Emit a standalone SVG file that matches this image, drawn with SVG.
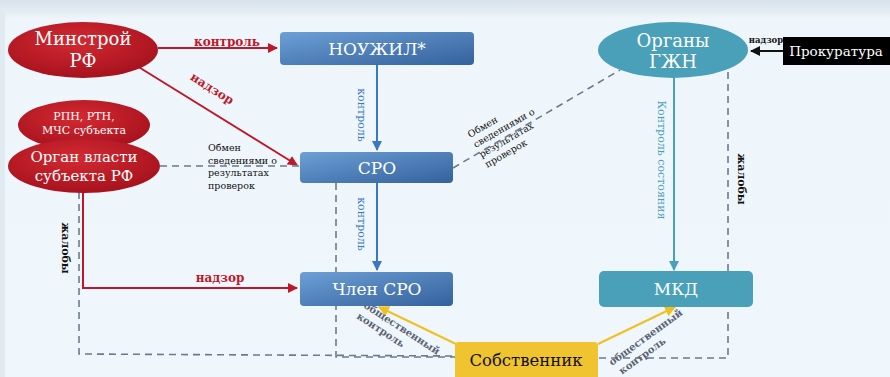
<svg xmlns="http://www.w3.org/2000/svg" width="890" height="377" viewBox="0 0 890 377" font-family="'DejaVu Serif', serif">
<defs>
<linearGradient id="bg" x1="0" y1="0" x2="0" y2="1">
<stop offset="0" stop-color="#d8e2ec"/><stop offset="0.03" stop-color="#e4ecf3"/><stop offset="0.05" stop-color="#eef6fb"/><stop offset="1" stop-color="#f0f7fc"/>
</linearGradient>
<radialGradient id="red" cx="0.45" cy="0.35" r="0.7">
<stop offset="0" stop-color="#d42a32"/><stop offset="1" stop-color="#a3101c"/>
</radialGradient>
<linearGradient id="blue" x1="0" y1="0" x2="1" y2="1">
<stop offset="0" stop-color="#6e9fd6"/><stop offset="1" stop-color="#33619c"/>
</linearGradient>
<marker id="aRed" viewBox="0 0 10 10" refX="9" refY="5" markerWidth="5" markerHeight="5" orient="auto"><path d="M0,0 L10,5 L0,10 z" fill="#c0182a"/></marker>
<marker id="aBlue" viewBox="0 0 10 10" refX="9" refY="5" markerWidth="5" markerHeight="5" orient="auto"><path d="M0,0 L10,5 L0,10 z" fill="#3a78c4"/></marker>
<marker id="aTeal" viewBox="0 0 10 10" refX="9" refY="5" markerWidth="5" markerHeight="5" orient="auto"><path d="M0,0 L10,5 L0,10 z" fill="#4aa0bc"/></marker>
<marker id="aBlack" viewBox="0 0 10 10" refX="9" refY="5" markerWidth="5" markerHeight="5" orient="auto"><path d="M0,0 L10,5 L0,10 z" fill="#111"/></marker>
<marker id="aYel" viewBox="0 0 10 10" refX="9" refY="5" markerWidth="5" markerHeight="5" orient="auto"><path d="M0,0 L10,5 L0,10 z" fill="#f0c020"/></marker>
</defs>
<style>
text{font-family:'DejaVu Serif','Liberation Serif',serif}
.w{fill:#fff}
.t18{font-size:17px}
.red{stroke:#c0182a;stroke-width:2;fill:none}
.blue{stroke:#3a78c4;stroke-width:2;fill:none}
.teal{stroke:#4aa0bc;stroke-width:2;fill:none}
.blk{stroke:#111;stroke-width:2;fill:none}
.yel{stroke:#f0c020;stroke-width:2.2;fill:none}
.dash{stroke:#6b7a8c;stroke-width:1.6;fill:none;stroke-dasharray:7,5}
.lr{fill:#c0182a;font-weight:bold;font-size:12px}
.lb{fill:#3a78c4;font-size:11px}
.lt{fill:#4aa0bc;font-size:11px}
.lk{fill:#111;font-weight:bold;font-size:11px}
.lg{fill:#5a6272;font-weight:bold;font-size:10px}
.sm{fill:#111;font-size:9.5px}
</style>
<rect x="0" y="0" width="890" height="377" fill="url(#bg)"/>
<rect x="0" y="10" width="5" height="367" fill="#e2eaf1"/>

<g id="connectors">
<line class="red" x1="158" y1="48" x2="277" y2="48" marker-end="url(#aRed)"/>
<line class="red" x1="137" y1="66" x2="297" y2="165" marker-end="url(#aRed)"/>
<polyline class="red" points="83,192 83,288 297,288" marker-end="url(#aRed)"/>
<line class="dash" x1="160" y1="166" x2="300" y2="166"/>
<polyline class="dash" points="79,192 79,354 455,356"/>
<polyline class="dash" points="336,183 336,357 455,357"/>
<line class="dash" x1="453" y1="168" x2="620" y2="70"/>
<polyline class="dash" points="728,72 728,358 598,358"/>
<line class="blue" x1="377" y1="65" x2="377" y2="150" marker-end="url(#aBlue)"/>
<line class="blue" x1="377" y1="183" x2="377" y2="270" marker-end="url(#aBlue)"/>
<line class="teal" x1="674" y1="78" x2="674" y2="270" marker-end="url(#aTeal)"/>
<line class="blk" x1="783" y1="51" x2="751" y2="51" marker-end="url(#aBlack)"/>
<line class="yel" x1="456" y1="344" x2="379" y2="307" marker-end="url(#aYel)"/>
<line class="yel" x1="598" y1="344" x2="675" y2="307" marker-end="url(#aYel)"/>

<text class="lr" x="227" y="46" text-anchor="middle">контроль</text>
<text class="lr" x="210" y="92" text-anchor="middle" transform="rotate(32 210 92)">надзор</text>
<text class="lr" x="220" y="282" text-anchor="middle">надзор</text>
<text class="sm"><tspan x="208" y="151">Обмен</tspan><tspan x="208" y="163.5">сведениями о</tspan><tspan x="208" y="176">результатах</tspan><tspan x="208" y="188.5">проверок</tspan></text>
<text class="sm" transform="translate(470,138) rotate(-30)"><tspan x="0" y="0">Обмен</tspan><tspan x="0" y="11.5">сведениями о</tspan><tspan x="0" y="23">результатах</tspan><tspan x="0" y="34.5">проверок</tspan></text>
<text class="lb" x="115" y="-358" text-anchor="middle" transform="rotate(90)">контроль</text>
<text class="lb" x="224" y="-358" text-anchor="middle" transform="rotate(90)">контроль</text>
<text class="lt" x="160" y="-658" text-anchor="middle" transform="rotate(90)">Контроль состояния</text>
<text class="lk" x="248" y="-62" text-anchor="middle" transform="rotate(90)">жалобы</text>
<text class="lk" x="179" y="-738" text-anchor="middle" transform="rotate(90)">жалобы</text>
<text x="766" y="43" text-anchor="middle" style="font-size:8.5px;font-weight:bold;fill:#111">надзор</text>
<text class="lg" transform="translate(363,307) rotate(33)"><tspan x="0" y="0">общественный</tspan><tspan x="0" y="13">контроль</tspan></text>
<text class="lg" transform="translate(612,366) rotate(-36)"><tspan x="0" y="0">общественный</tspan><tspan x="3" y="13">контроль</tspan></text>
</g>

<g id="minstroy">
<ellipse cx="83" cy="50" rx="75" ry="28" fill="url(#red)"/>
<text class="w" x="83" y="45" text-anchor="middle" style="font-size:18px">Минстрой</text>
<text class="w" x="83" y="67" text-anchor="middle" style="font-size:18px">РФ</text>
</g>
<g id="rpn">
<ellipse cx="84" cy="125" rx="66" ry="25" fill="url(#red)"/>
<text class="w" x="84" y="120" text-anchor="middle" style="font-size:11px">РПН, РТН,</text>
<text class="w" x="84" y="134" text-anchor="middle" style="font-size:11px">МЧС субъекта</text>
</g>
<g id="organ">
<ellipse cx="84" cy="166" rx="76" ry="27" fill="url(#red)"/>
<text class="w" x="84" y="162" text-anchor="middle" style="font-size:15px">Орган власти</text>
<text class="w" x="84" y="181" text-anchor="middle" style="font-size:15px">субъекта РФ</text>
</g>
<g id="nouzhil">
<rect x="280" y="32" width="194" height="33" rx="4" fill="url(#blue)"/>
<text class="w t18" x="377" y="55" text-anchor="middle">НОУЖИЛ*</text>
</g>
<g id="sro">
<rect x="300" y="152" width="153" height="31" rx="4" fill="url(#blue)"/>
<text class="w t18" x="377" y="174" text-anchor="middle">СРО</text>
</g>
<g id="chlen">
<rect x="300" y="272" width="153" height="34" rx="4" fill="url(#blue)"/>
<text class="w t18" x="377" y="295" text-anchor="middle">Член СРО</text>
</g>
<g id="gzhn">
<ellipse cx="673" cy="50" rx="75" ry="28" fill="#4a9fb9"/>
<text class="w" x="673" y="47" text-anchor="middle" style="font-size:18px">Органы</text>
<text class="w" x="673" y="68" text-anchor="middle" style="font-size:18px">ГЖН</text>
</g>
<g id="prokuratura">
<rect x="783" y="37" width="107" height="28" fill="#000"/>
<text class="w" x="836" y="56" text-anchor="middle" style="font-size:13.5px">Прокуратура</text>
</g>
<g id="mkd">
<rect x="599" y="271" width="154" height="36" rx="5" fill="#4a9fb9"/>
<text class="w t18" x="676" y="295" text-anchor="middle">МКД</text>
</g>
<g id="sobstvennik">
<rect x="455" y="342" width="143" height="38" rx="4" fill="#f0c330"/>
<text x="526" y="366" text-anchor="middle" style="font-size:16.5px;fill:#111">Собственник</text>
</g>
</svg>
